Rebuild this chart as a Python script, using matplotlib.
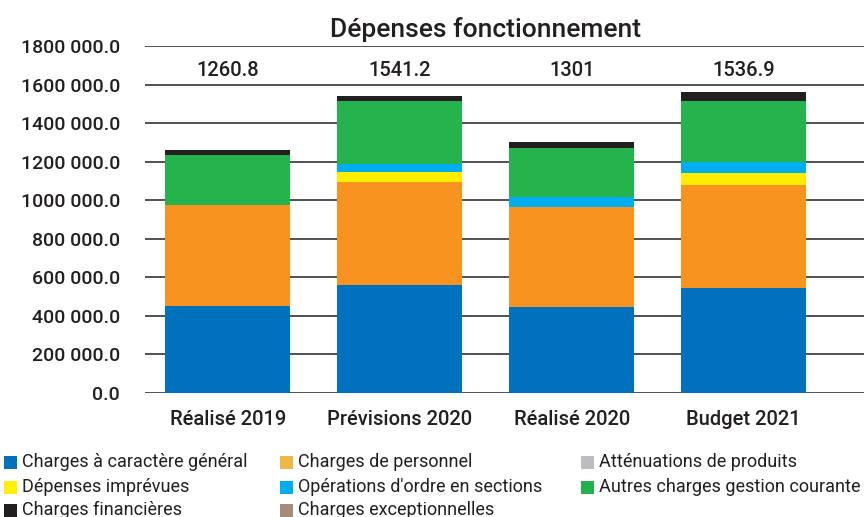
import matplotlib
matplotlib.use('Agg')
import matplotlib.pyplot as plt
from matplotlib.patches import Rectangle
from matplotlib.ticker import FuncFormatter
import numpy as np

plt.rcParams['font.family'] = ['Roboto', 'DejaVu Sans']

categories = ['Réalisé 2019', 'Prévisions 2020', 'Réalisé 2020', 'Budget 2021']
totals_text = ['1260.8', '1541.2', '1301', '1536.9']

series_names = ['Charges à caractère général', 'Charges de personnel',
                'Atténuations de produits', 'Dépenses imprévues',
                "Opérations d'ordre en sections", 'Autres charges gestion courante',
                'Charges financières', 'Charges exceptionnelles']

charges_generales = [452000, 558000, 447000, 545000]
charges_personnel = [523000, 535000, 516000, 534000]
attenuations = [0, 0, 0, 0]
depenses_imprevues = [0, 52000, 0, 62000]
operations_ordre = [0, 43000, 55000, 57000]
autres_charges = [262000, 325000, 255000, 317000]
charges_financieres = [23800, 28200, 28000, 46000]
charges_exceptionnelles = [0, 0, 0, 0]

series_values = [charges_generales, charges_personnel, attenuations,
                 depenses_imprevues, operations_ordre, autres_charges,
                 charges_financieres, charges_exceptionnelles]
bar_colors = ['#0071BC', '#F7931E', '#BCBDC0', '#FFED00',
              '#00AEEF', '#25B34E', '#231F20', '#A78B7A']
legend_colors = ['#0071BC', '#EDB843', '#BCBDC0', '#FFF200',
                 '#00AEEF', '#22B14C', '#231F20', '#A78B7A']

txt = '#231F20'

fig = plt.figure(figsize=(8.64, 5.17), dpi=100)
ax = fig.add_axes([0.168, 0.2398, 0.832, 0.6713])

x = np.arange(len(categories))
bottom = np.zeros(len(categories))
for vals, col in zip(series_values, bar_colors):
    ax.bar(x, vals, 0.73, bottom=bottom, color=col, zorder=2)
    bottom += np.array(vals)

for xi, t in zip(x, totals_text):
    ax.text(xi, 1675000, t, ha='center', va='center', fontsize=14.5,
            fontweight='medium', color=txt)

ax.set_xlim(-0.48, 3.70)
ax.set_ylim(0, 1800000)
ax.set_yticks(np.arange(0, 1800001, 200000))


def fmt(v, pos):
    v = int(round(v))
    if v == 0:
        return '0.0'
    return f'{v // 1000} {v % 1000:03d}.0'


ax.yaxis.set_major_formatter(FuncFormatter(fmt))
ax.grid(axis='y', color='#333333', linewidth=1.2, zorder=0)
ax.set_axisbelow(True)
for s in ax.spines.values():
    s.set_visible(False)
ax.tick_params(axis='y', length=0, pad=18, labelsize=14, labelcolor=txt)
ax.tick_params(axis='x', length=0, pad=12, labelsize=14.5, labelcolor=txt)
for lab in ax.get_yticklabels():
    lab.set_fontweight('medium')
ax.set_xticks(x)
ax.set_xticklabels(categories, fontweight='medium')

fig.text(0.562, 0.942, 'Dépenses fonctionnement', ha='center', va='center',
         fontsize=19, fontweight='medium', color=txt)

# legend, 3 columns
col_x = [4, 280, 581]
row_y = [462, 487, 510]
W, H = 864, 517
for i, (name, col) in enumerate(zip(series_names, legend_colors)):
    cx = col_x[i % 3]
    cy = row_y[i // 3]
    fig.patches.append(Rectangle((cx / W, 1 - (cy + 6.5) / H), 13 / W, 13 / H,
                                 transform=fig.transFigure, facecolor=col,
                                 edgecolor='none'))
    fig.text((cx + 18) / W, 1 - cy / H, name, ha='left', va='center',
             fontsize=13, color=txt)

fig.savefig('out.png', dpi=100)
